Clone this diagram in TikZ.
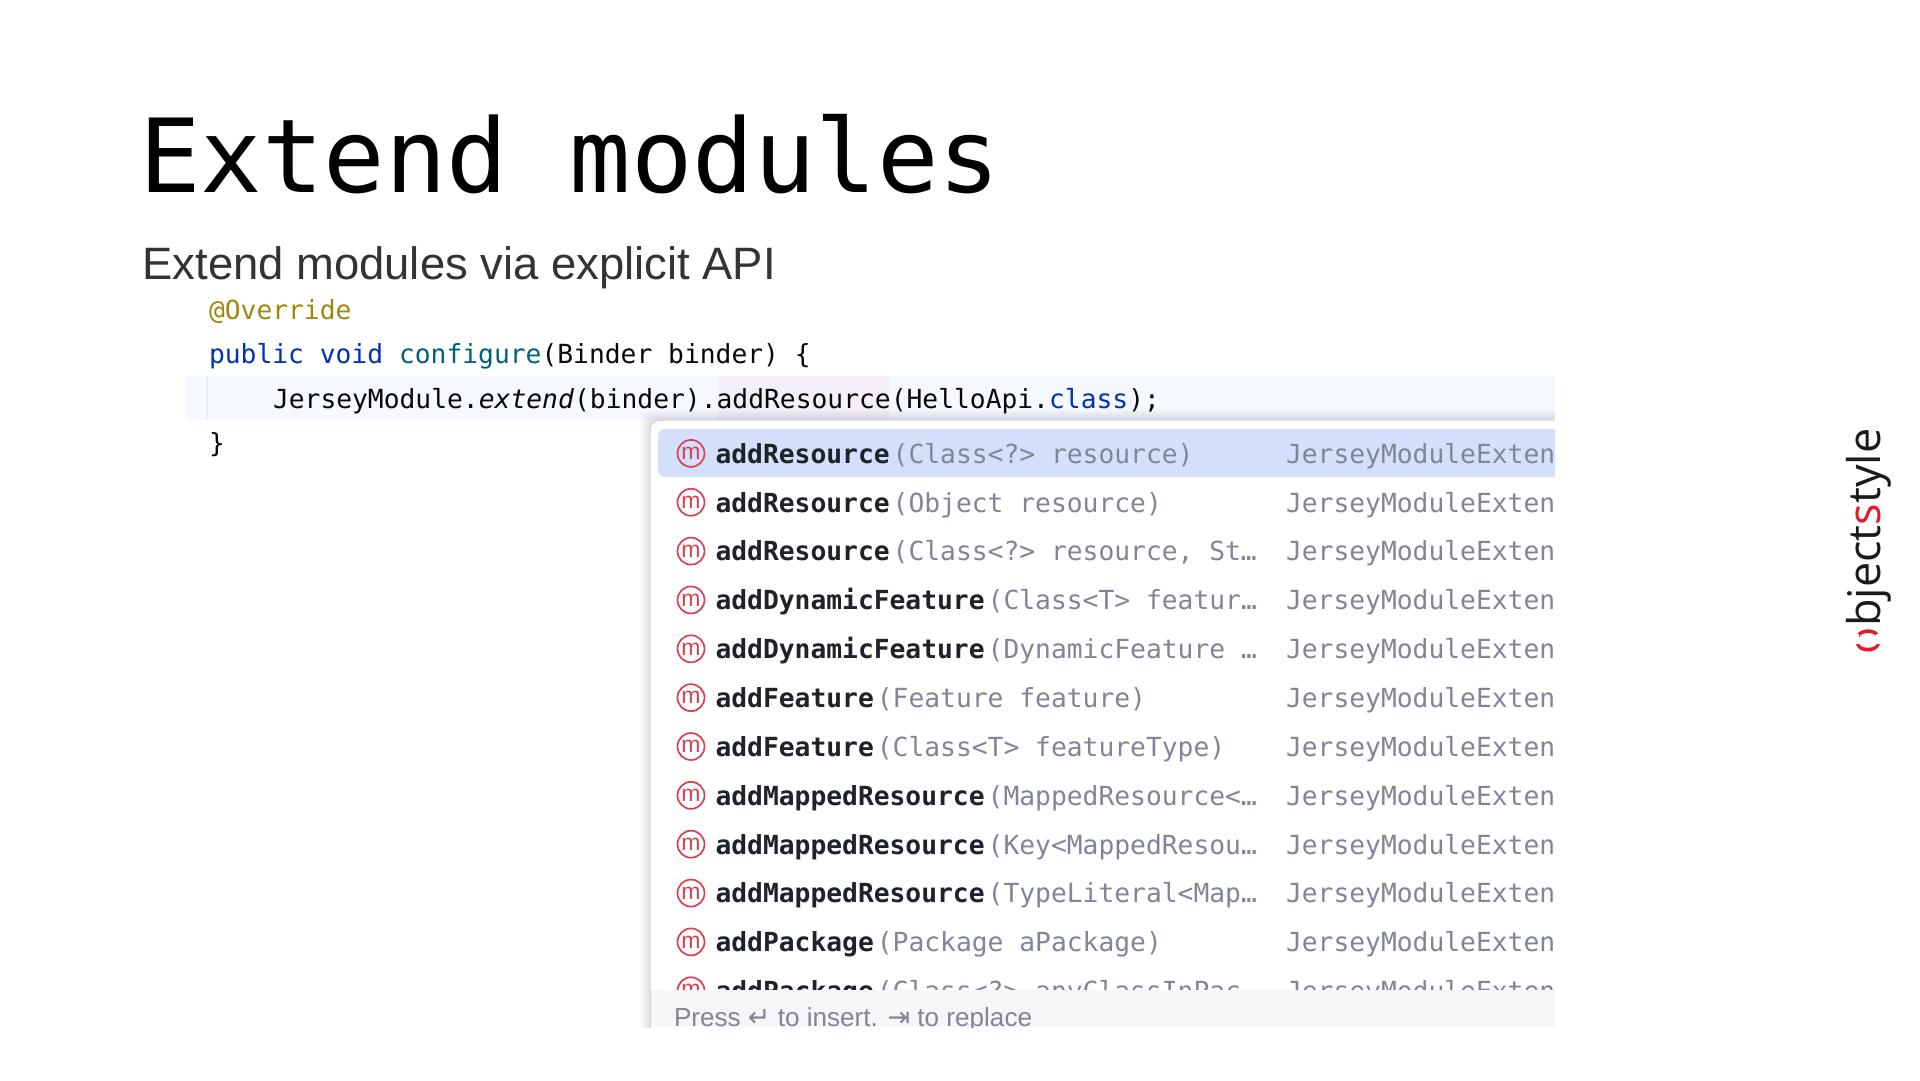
\documentclass[tikz,border=0pt]{standalone}
\usepackage{fontspec}
\setmainfont{Liberation Sans}
\newfontfamily\codefont{DejaVu Sans Mono}
\newfontfamily\titlefont{DejaVu Sans Mono}
\newfontfamily\logofont{Open Sans}
\newfontfamily\symfont{DejaVu Sans}
\definecolor{kw}{HTML}{0033B3}
\definecolor{meth}{HTML}{00627A}
\definecolor{anno}{HTML}{9E880D}
\definecolor{plain}{HTML}{080808}
\definecolor{strong}{HTML}{1F2329}
\definecolor{muted}{HTML}{818594}
\definecolor{band}{HTML}{F5F8FE}
\definecolor{wordmark}{HTML}{F4EFF8}
\definecolor{selrow}{HTML}{D4E0FB}
\definecolor{footbg}{HTML}{F5F6F8}
\definecolor{iconred}{HTML}{D9404F}
\definecolor{logored}{HTML}{E8192C}
\definecolor{logoblack}{HTML}{1A1A1A}
\tikzset{
  txt/.style={inner sep=0pt,outer sep=0pt,anchor=base west},
  code/.style={txt,text=plain,font=\codefont\fontsize{26.3}{26.3}\selectfont},
  mname/.style={code,text=strong,font=\codefont\bfseries\fontsize{26.3}{26.3}\selectfont},
  mparam/.style={code,text=muted},
  micon/.style={circle,draw=iconred,line width=1.7pt,minimum size=27pt,inner sep=0pt,text=iconred,font=\fontsize{23}{23}\selectfont},
}
\begin{document}
\begin{tikzpicture}[x=1pt,y=-1pt]
\useasboundingbox (0,0) rectangle (1920,1080);
\fill[white] (0,0) rectangle (1920,1080);
% title and subtitle
\node[txt,text=black,font=\titlefont\fontsize{102.2}{102.2}\selectfont] (title) at (139,192) {Extend modules};
\node[txt,text=black!80,font=\fontsize{45.4}{45.4}\selectfont] (subtitle) at (142.5,279.5) {Extend modules via explicit API};
% editor
\fill[band] (186,376) rectangle (1555,420);
\draw[draw=black!9,line width=1pt] (207,376) -- (207,420);
\fill[wordmark] (717,376) rectangle (890,420);
\node[code,text=anno] (l1) at (209,319) {@Override};
\node[code] (l2) at (209,363) {\textcolor{kw}{public void} \textcolor{meth}{configure}(Binder binder) \{};
\node[code] (l3) at (273,408) {JerseyModule.\textit{extend}(binder).addResource(HelloApi.\textcolor{kw}{class});};
\node[code] (l4) at (209,452) {\}};
% popup shadow
\begin{scope}
\clip (620,395) rectangle (1555,1027);
\foreach \r in {1,...,10}
  \fill[black,opacity=0.011] (650-\r,420-\r) [rounded corners=10pt] rectangle (1600,1100);
\end{scope}
% popup body
\begin{scope}
\clip (650,420) rectangle (1555,1027);
\fill[white,draw=black!18,line width=1pt,rounded corners=10pt] (650,420) rectangle (1600,1100);
\fill[selrow,rounded corners=7pt] (658,429) rectangle (1600,477);
\foreach \i/\n/\p in {
  0/addResource/{(Class<?> resource)},
  1/addResource/{(Object resource)},
  2/addResource/{(Class<?> resource, St…},
  3/addDynamicFeature/{(Class<T> featur…},
  4/addDynamicFeature/{(DynamicFeature …},
  5/addFeature/{(Feature feature)},
  6/addFeature/{(Class<T> featureType)},
  7/addMappedResource/{(MappedResource<…},
  8/addMappedResource/{(Key<MappedResou…},
  9/addMappedResource/{(TypeLiteral<Map…},
  10/addPackage/{(Package aPackage)},
  11/addPackage/{(Class<?> anyClassInPac…}}
{
  \pgfmathsetmacro\rowc{453.4+\i*48.85}
  \node[micon] (ic\i) at (691,\rowc) {m};
  \node[mname] (nm\i) at (715.5,\rowc+9.8) {\n};
  \node[mparam] (pa\i) at ([xshift=3pt]nm\i.base east) {\p};
  \node[mparam] (ow\i) at (1286,\rowc+9.8) {JerseyModuleExten};
}
\fill[footbg] (650,990) rectangle (1555,1027);
\draw[draw=black!18,line width=1pt] (650,990) -- (650,1027);
\node[txt,text=muted,font=\fontsize{26.1}{26.1}\selectfont] (hint) at (674,1026)
  {Press {\symfont\fontsize{27}{27}\selectfont ↵} to insert. {\symfont\fontsize{27}{27}\selectfont ⇥} to replace};
\end{scope}
% logo
\node[txt,rotate=90,text=logoblack,font=\logofont\fontsize{45}{45}\selectfont] (logo) at (1880,654)
  {\textcolor{logored}{o}bject\textcolor{logored}{s}tyle};
\fill[white] (1851,634) rectangle (1859,644);
\fill[white] (1876,634) rectangle (1885,644);
\end{tikzpicture}
\end{document}
